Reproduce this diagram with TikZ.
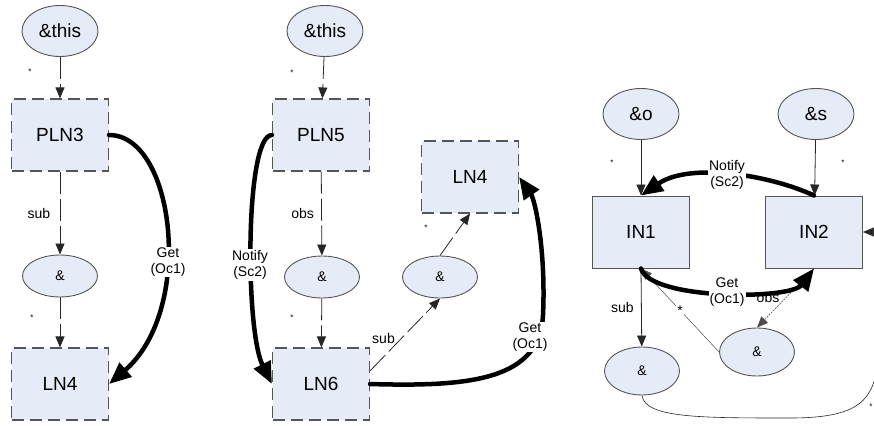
\documentclass[tikz,border=0pt]{standalone}
\usepackage{fontspec}
\setmainfont{Liberation Sans}
\usetikzlibrary{shapes.geometric,arrows.meta}

\definecolor{azzurro}{HTML}{E6ECF7}
\definecolor{grigio}{HTML}{555555}

\begin{document}
\begin{tikzpicture}[
    x=1pt,y=-1pt,
    font=\fontsize{19}{22}\selectfont,
    scatola/.style={rectangle,fill=azzurro,minimum width=97pt,
                    minimum height=72pt,inner sep=0pt},
    bordotr/.style={draw=grigio,line width=1.1pt,dash pattern=on 12pt off 6pt},
    bordopi/.style={draw=grigio,line width=1pt},
    ovale/.style={ellipse,draw=grigio,line width=0.9pt,fill=azzurro,
                  minimum width=76pt,minimum height=51pt,inner sep=0pt},
    ovalino/.style={ovale,minimum width=75pt,minimum height=42pt,
                    font=\fontsize{14}{16}\selectfont},
    freccia/.style={-{Triangle[length=11pt,width=9pt]},line width=0.8pt,draw=black!85},
    tratto/.style={freccia,dash pattern=on 22pt off 5pt},
    puntini/.style={freccia,draw=black!70,line width=0.6pt,dash pattern=on 2pt off 1pt},
    grossa/.style={-{Triangle[length=22pt,width=18pt]},line width=4.5pt,line cap=round},
    etichetta/.style={font=\fontsize{14}{16}\selectfont,fill=white,align=center,
                      inner sep=1pt},
    stella/.style={font=\fontsize{8}{8}\selectfont,inner sep=0pt}]

  \useasboundingbox (0,0) rectangle (874,425);

  % --- primo schema: PLN3 e LN4 ---
  \node[ovale] (this1) at (60,31) {\&this};
  \node[scatola,bordotr] (pln3) at (60,135) {PLN3};
  \node[ovalino] (e1) at (60,276) {\&};
  \node[scatola,bordotr] (ln4a) at (60,384) {LN4};

  \draw[tratto] (this1) -- (pln3);
  \draw[tratto] (pln3) -- node[pos=0.5,left=6pt,font=\fontsize{14}{16}\selectfont] {sub} (e1);
  \draw[tratto] (e1) -- (ln4a);
  \draw[grossa] (pln3.east) .. controls (175,135) and (195,310) .. (ln4a.east);
  \node[etichetta] (get1) at (168,262) {Get\\(Oc1)};

  % --- secondo schema: PLN5, LN6 e LN4 ---
  \node[ovale] (this2) at (325,31) {\&this};
  \node[scatola,bordotr] (pln5) at (321,135) {PLN5};
  \node[ovalino] (e2) at (322,277) {\&};
  \node[scatola,bordotr] (ln6) at (321,384) {LN6};
  \node[scatola,bordotr] (ln4b) at (470,177) {LN4};
  \node[ovalino] (e3) at (440,277) {\&};

  \draw[tratto] (this2) -- (pln5);
  \draw[tratto] (pln5) -- node[pos=0.5,left=4pt,font=\fontsize{14}{16}\selectfont] {obs} (e2);
  \draw[tratto] (e2) -- (ln6);
  \draw[tratto] (ln6.15) -- node[pos=0.45,left=3pt,font=\fontsize{14}{16}\selectfont] {sub} (e3.south);
  \draw[tratto] (e3.north) -- (ln4b.south);
  \draw[grossa] (pln5.west) .. controls (245,135) and (245,330) .. (ln6.west);
  \draw[grossa] (ln6.east) .. controls (470,387) and (540,380) .. (543,315)
                .. controls (546,250) and (535,200) .. (ln4b.east);
  \node[etichetta] (notify2) at (250,265) {Notify\\(Sc2)};
  \node[etichetta] (get2) at (530,337) {Get\\(Oc1)};

  % --- terzo schema: IN1 e IN2 ---
  \node[ovale] (eo) at (641,114) {\&o};
  \node[ovale] (es) at (816,114) {\&s};
  \node[scatola,bordopi] (in1) at (641,232) {IN1};
  \node[scatola,bordopi] (in2) at (814,232) {IN2};
  \node[ovalino,minimum height=48pt] (e4) at (642,371) {\&};
  \node[ovalino,minimum height=48pt] (e5) at (757,352) {\&};

  \draw[freccia] (eo) -- (in1);
  \draw[freccia] (es) -- (in2);
  \draw[freccia] (in1.south) -- node[pos=0.5,left=4pt,font=\fontsize{14}{16}\selectfont] {sub} (e4);
  \node[font=\fontsize{14}{16}\selectfont] (obs3) at (768,297) {obs};
  \draw[puntini] (in2.south) -- (e5.north);
  \draw[freccia,line width=0.5pt,draw=black!70] (e5.west) -- node[pos=0.5,fill=white,inner sep=1pt,font=\fontsize{14}{14}\selectfont] {*} (in1.south);
  \draw[grossa] (in2.north) .. controls (770,175) and (690,162) .. (in1.north);
  \draw[grossa] (in1.south) .. controls (650,300) and (790,300) .. (in2.south);
  \draw[freccia,line width=0.6pt] (e4.south) .. controls (645,418) and (700,418) .. (790,418)
                .. controls (860,418) and (874,400) .. (878,360) -- (882,232) -- (in2.east);
  \node[etichetta] (notify3) at (727,175) {Notify\\(Sc2)};
  \node[etichetta] (get3) at (727,292) {Get\\(Oc1)};

  % --- le molteplicità ---
  \foreach \x/\y in {30/72,32/318,292/73,292/318,426/228,612/163,843/163,871/407}{
    \node[stella] (s\x) at (\x,\y) {*};
  }

\end{tikzpicture}
\end{document}
